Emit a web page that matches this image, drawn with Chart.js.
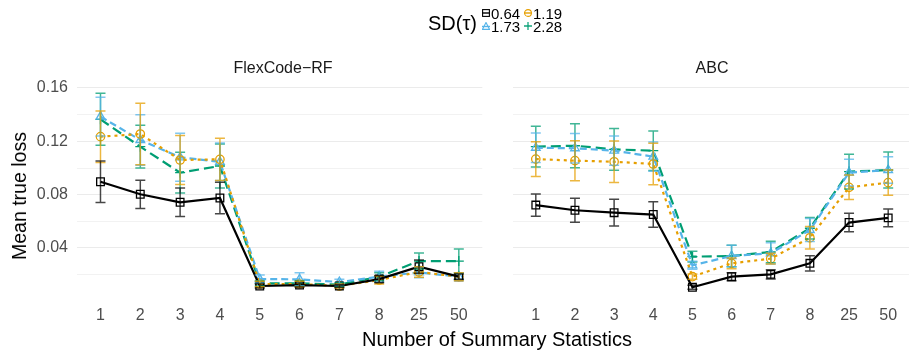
<!DOCTYPE html>
<html>
<head>
<meta charset="utf-8">
<script src="https://cdn.jsdelivr.net/npm/chart.js@4.4.1/dist/chart.umd.min.js"></script>
<style>
  html, body { margin:0; padding:0; background:#fff; }
  body { width:909px; height:354px; overflow:hidden; position:relative; font-family:"Liberation Sans", Arial, sans-serif; }
  .abs { position:absolute; white-space:nowrap; }
  canvas { position:absolute; top:0; }
  #legTitle { left:428px; top:11px; font-size:20px; color:#000; line-height:24px; }
  .legItem { position:absolute; font-size:15px; line-height:15px; color:#000; }
  .legItem svg { position:absolute; left:-9px; top:3px; }
  .facet { top:59px; font-size:16px; color:#1a1a1a; transform:translateX(-50%); line-height:18px; }
  #xTitle { left:497px; top:327px; font-size:20px; color:#000; transform:translateX(-50%); line-height:24px; }
  #yTitle { left:19px; top:196px; font-size:19.5px; color:#000; transform:translate(-50%,-50%) rotate(-90deg); line-height:24px; }
</style>
</head>
<body>
<canvas id="c1" width="489" height="354" style="left:0px"></canvas>
<canvas id="c2" width="412" height="354" style="left:506px"></canvas>

<div class="abs" id="legTitle">SD(τ)</div>
<div id="legend"></div>
<div class="abs facet" style="left:283px">FlexCode−RF</div>
<div class="abs facet" style="left:712px">ABC</div>
<div class="abs" id="xTitle">Number of Summary Statistics</div>
<div class="abs" id="yTitle">Mean true loss</div>

<script>
// ---------- data ----------
const categories = ['1','2','3','4','5','6','7','8','25','50'];
const sdLevels = ['0.64','1.19','1.73','2.28'];
const yTickValues = [0.02, 0.04, 0.06, 0.08, 0.10, 0.12, 0.14, 0.16];
const yLabelValues = [0.04, 0.08, 0.12, 0.16];

// FlexCode-RF panel
const flexMean064 = [0.0897, 0.0803, 0.0743, 0.0775, 0.0115, 0.0122, 0.0115, 0.0167, 0.0260, 0.0185];
const flexErr064  = [0.0156, 0.0106, 0.0107, 0.0119, 0.0015, 0.0015, 0.0012, 0.0025, 0.0050, 0.0020];
const flexMean119 = [0.1235, 0.1255, 0.1060, 0.1065, 0.0130, 0.0130, 0.0115, 0.0160, 0.0220, 0.0185];
const flexErr119  = [0.0193, 0.0231, 0.0183, 0.0159, 0.0020, 0.0020, 0.0015, 0.0030, 0.0040, 0.0030];
const flexMean173 = [0.1385, 0.1210, 0.1080, 0.1047, 0.0167, 0.0165, 0.0145, 0.0185, 0.0217, 0.0185];
const flexErr173  = [0.0145, 0.0190, 0.0180, 0.0140, 0.0030, 0.0050, 0.0020, 0.0040, 0.0040, 0.0030];
const flexMean228 = [0.1365, 0.1160, 0.0965, 0.1015, 0.0135, 0.0135, 0.0125, 0.0185, 0.0302, 0.0302];
const flexErr228  = [0.0195, 0.0160, 0.0153, 0.0165, 0.0020, 0.0020, 0.0015, 0.0030, 0.0060, 0.0090];

// ABC panel
const abcMean064 = [0.0722, 0.0683, 0.0665, 0.0651, 0.0105, 0.0185, 0.0202, 0.0285, 0.0591, 0.0626];
const abcErr064  = [0.0083, 0.0090, 0.0100, 0.0096, 0.0015, 0.0030, 0.0035, 0.0057, 0.0069, 0.0066];
const abcMean119 = [0.1067, 0.1055, 0.1047, 0.1030, 0.0185, 0.0285, 0.0320, 0.0477, 0.0855, 0.0890];
const abcErr119  = [0.0130, 0.0150, 0.0155, 0.0155, 0.0020, 0.0040, 0.0040, 0.0085, 0.0092, 0.0095];
const abcMean173 = [0.1152, 0.1148, 0.1130, 0.1085, 0.0270, 0.0340, 0.0360, 0.0535, 0.0965, 0.0985];
const abcErr173  = [0.0110, 0.0110, 0.0110, 0.0110, 0.0030, 0.0080, 0.0080, 0.0087, 0.0100, 0.0100];
const abcMean228 = [0.1160, 0.1167, 0.1140, 0.1130, 0.0335, 0.0340, 0.0370, 0.0548, 0.0973, 0.0985];
const abcErr228  = [0.0153, 0.0165, 0.0157, 0.0148, 0.0040, 0.0080, 0.0080, 0.0080, 0.0130, 0.0135];

// ---------- styles ----------
const colors = ['#000000', '#E69F00', '#56B4E9', '#009E73'];
const errColors = ['rgba(0,0,0,0.72)', 'rgba(230,159,0,0.75)', 'rgba(86,180,233,0.75)', 'rgba(0,158,115,0.75)'];
const dashes = [[], [3, 4], [7, 4], [10, 5]];
const pStyles = ['rect', 'circle', 'triangle', 'cross'];
const pRadius = [5.4, 4.2, 5, 5];

function makeDatasets(means, errs) {
  return means.map((m, k) => ({
    label: sdLevels[k],
    data: m.map((v, i) => ({ x: i + 1, y: v })),
    errors: errs[k],
    errColor: errColors[k],
    borderColor: colors[k],
    backgroundColor: 'rgba(0,0,0,0)',
    borderWidth: 2.2,
    borderDash: dashes[k],
    pointStyle: pStyles[k],
    pointRadius: pRadius[k],
    pointBorderWidth: 1.3,
    pointBorderColor: colors[k],
    pointBackgroundColor: 'rgba(0,0,0,0)',
    tension: 0,
    fill: false
  }));
}

const errorBarPlugin = {
  id: 'errbars',
  afterDatasetsDraw(chart) {
    const { ctx, scales: { x, y } } = chart;
    const hw = 5;
    ctx.save();
    ctx.beginPath();
    ctx.rect(chart.chartArea.left, chart.chartArea.top, chart.chartArea.right - chart.chartArea.left, chart.chartArea.bottom - chart.chartArea.top);
    ctx.clip();
    for (let k = chart.data.datasets.length - 1; k >= 0; k--) {
      const ds = chart.data.datasets[k];
      ctx.strokeStyle = ds.errColor;
      ctx.lineWidth = 1.5;
      ctx.setLineDash([]);
      ds.data.forEach((p, i) => {
        const e = ds.errors[i];
        const px = x.getPixelForValue(p.x);
        const t = y.getPixelForValue(p.y + e);
        const b = y.getPixelForValue(p.y - e);
        ctx.beginPath();
        ctx.moveTo(px, t); ctx.lineTo(px, b);
        ctx.moveTo(px - hw, t); ctx.lineTo(px + hw, t);
        ctx.moveTo(px - hw, b); ctx.lineTo(px + hw, b);
        ctx.stroke();
      });
    }
    ctx.restore();
  }
};

function makeChart(id, means, errs, showY) {
  const isMajor = v => yLabelValues.some(t => Math.abs(t - v) < 1e-9);
  return new Chart(document.getElementById(id), {
    type: 'line',
    data: { datasets: makeDatasets(means, errs) },
    plugins: [errorBarPlugin],
    options: {
      responsive: false,
      animation: false,
      devicePixelRatio: 1,
      layout: { padding: { top: 78, right: 0, left: 0, bottom: 0 } },
      plugins: { legend: { display: false }, tooltip: { enabled: false }, title: { display: false } },
      scales: {
        x: {
          type: 'linear',
          min: 0.41, max: 10.59,
          afterBuildTicks: s => { s.ticks = categories.map((c, i) => ({ value: i + 1 })); },
          afterFit: s => { s.height = 54; },
          grid: { display: false, drawTicks: false },
          border: { display: false },
          ticks: {
            autoSkip: false, maxRotation: 0, padding: 6,
            color: '#4d4d4d',
            font: { family: 'Liberation Sans', size: 16 },
            callback: v => categories[Math.round(v) - 1]
          }
        },
        y: {
          type: 'linear',
          min: 0.001, max: 0.1675,
          afterBuildTicks: s => { s.ticks = yTickValues.map(v => ({ value: v })); },
          afterFit: s => { s.width = showY ? 77 : 0; },
          grid: {
            drawTicks: false,
            color: ctx => isMajor(ctx.tick.value) ? '#ebebeb' : '#f0f0f0',
            lineWidth: ctx => isMajor(ctx.tick.value) ? 1.1 : 0.9
          },
          border: { display: false },
          ticks: {
            display: showY,
            padding: 9,
            color: '#4d4d4d',
            font: { family: 'Liberation Sans', size: 16 },
            callback: v => isMajor(v) ? v.toFixed(2) : ''
          }
        }
      }
    }
  });
}

makeChart('c1', [flexMean064, flexMean119, flexMean173, flexMean228], [flexErr064, flexErr119, flexErr173, flexErr228], true);
makeChart('c2', [abcMean064, abcMean119, abcMean173, abcMean228], [abcErr064, abcErr119, abcErr173, abcErr228], false);

// ---------- legend (HTML) ----------
const legPos = [[491, 6], [533, 6], [491, 19], [533, 19]];
const keySvg = [
  '<svg width="8" height="8"><rect x="0.6" y="0.6" width="6.8" height="6.8" fill="none" stroke="#000" stroke-width="1.1"/><line x1="0" y1="4" x2="8" y2="4" stroke="#000" stroke-width="1.4"/></svg>',
  '<svg width="8" height="8"><circle cx="4" cy="4" r="3.4" fill="none" stroke="#E69F00" stroke-width="1.1"/><line x1="0" y1="4" x2="8" y2="4" stroke="#E69F00" stroke-width="1.4"/></svg>',
  '<svg width="8" height="8"><polygon points="4,0.5 7.6,7.4 0.4,7.4" fill="none" stroke="#56B4E9" stroke-width="1.1"/><line x1="0" y1="4.5" x2="8" y2="4.5" stroke="#56B4E9" stroke-width="1.4"/></svg>',
  '<svg width="8" height="8"><line x1="4" y1="0" x2="4" y2="8" stroke="#009E73" stroke-width="1.2"/><line x1="0" y1="4" x2="8" y2="4" stroke="#009E73" stroke-width="1.4"/></svg>'
];
const leg = document.getElementById('legend');
sdLevels.forEach((lv, k) => {
  const d = document.createElement('div');
  d.className = 'legItem';
  d.style.left = legPos[k][0] + 'px';
  d.style.top = legPos[k][1] + 'px';
  d.innerHTML = keySvg[k] + lv;
  leg.appendChild(d);
});
</script>
</body>
</html>
